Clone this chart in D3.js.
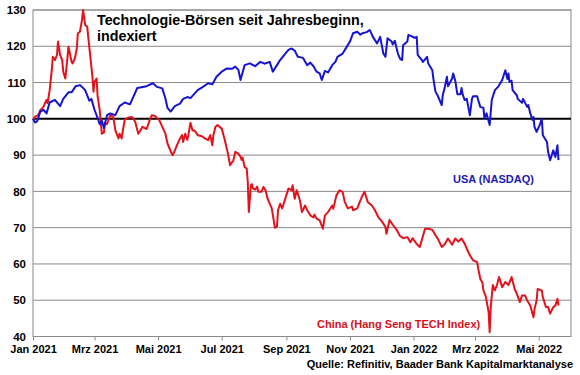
<!DOCTYPE html>
<html>
<head>
<meta charset="utf-8">
<script src="https://cdn.jsdelivr.net/npm/d3@7"></script>
<style>
  body { margin: 0; background: #fff; }
  svg { display: block; font-family: "Liberation Sans", Arial, sans-serif; font-weight: bold; }
</style>
</head>
<body>
<svg></svg>
<script>
// Daten: Tage seit 1. Januar 2021 und Indexwerte (Start = 100)
const usaDays = [
  0, 2, 4, 7, 10, 13, 16, 21, 26, 29,
  34, 37, 41, 45, 47, 50, 54, 56, 59, 62,
  64, 66, 68, 71, 74, 79, 83, 88, 93, 100,
  109, 115, 119, 124, 127, 129, 132, 136, 141, 144,
  148, 151, 158, 163, 168, 172, 176, 181, 186, 191,
  194, 197, 199, 203, 208, 213, 218, 222, 227, 230,
  234, 237, 242, 245, 248, 251, 254, 259, 263, 266,
  269, 272, 275, 277, 280, 283, 287, 290, 292, 297,
  301, 304, 307, 311, 314, 316, 320, 323, 326, 330,
  333, 336, 338, 340, 344, 345, 347, 350, 352, 354,
  355, 359, 360, 363, 366, 368, 369, 373, 374, 378,
  379, 383, 384, 386, 388, 392, 393, 395, 397, 398,
  400, 402, 403, 405, 407, 410, 411, 412, 414, 416,
  419, 421, 422, 426, 427, 429, 432, 433, 435, 438,
  440, 443, 446, 450, 453, 455, 456, 457, 459, 460,
  464, 465, 469, 470, 474, 475, 477, 479, 480, 481,
  483, 486, 488, 489, 493, 494, 496, 498, 499, 501,
  503, 504
];
const usaValues = [
  100, 99, 99.3, 102, 102.5, 101.5, 104.5, 105.2, 103.5, 105.5,
  107.3, 107.3, 109, 109.3, 108.8, 107.9, 105, 105.5, 102.5, 100.2,
  98.5, 99.5, 97.5, 101, 101.5, 101, 103.5, 104.5, 104, 108.5,
  109, 109.8, 108.8, 108.4, 105.6, 103, 102, 103.5, 104.2, 105.5,
  106, 105.7, 107.9, 108.8, 109.8, 109.5, 111.6, 113, 113.9, 113.8,
  114.4, 113.5, 110.7, 114.8, 115.3, 114.5, 115.7, 115.2, 115.7, 113,
  114.8, 116.2, 118, 119, 119.4, 118.8, 117.1, 116.8, 114.8, 115.5,
  114.5, 113, 112.5, 110.7, 113.2, 112.8, 114.8, 115.7, 117.1, 118,
  119.9, 121.3, 123.6, 124, 123.2, 123.6, 123.9, 124.5, 122.6, 120.8,
  122.6, 118, 117.1, 122.2, 121.3, 120.5, 121.5, 118, 116.6, 116.2,
  120.3, 121.3, 123.1, 122.8, 122.3, 122.6, 117.6, 116.2, 115.7, 117.1,
  115.3, 113.4, 111.1, 107.5, 106.5, 103.8, 106.5, 108.8, 111.6, 109,
  110, 111.1, 112.5, 110.5, 106.8, 106.8, 108.5, 106.8, 105.2, 105.5,
  101, 105.5, 106.2, 106.2, 105.2, 103.3, 103, 100.1, 101.5, 98.3,
  105.2, 107.9, 108.8, 110.7, 113.4, 111, 112.5, 110.2, 110.5, 107.9,
  106.5, 105.5, 104.4, 105.5, 103.3, 103.8, 101.5, 99.7, 100.5, 97.8,
  96.4, 98.3, 100, 95.5, 93.6, 90.9, 88.6, 90.4, 91.3, 89.5,
  92.7, 88.6
];

const chinaDays = [
  0, 2, 5, 7, 10, 12, 13, 14, 16, 18,
  19, 21, 23, 24, 26, 28, 29, 31, 33, 34,
  35, 37, 38, 40, 42, 43, 45, 47, 48, 50,
  52, 53, 55, 57, 58, 59, 61, 62, 64, 66,
  68, 69, 71, 74, 77, 79, 82, 83, 85, 86,
  88, 91, 95, 98, 101, 103, 105, 109, 112, 114,
  117, 119, 121, 124, 127, 129, 133, 134, 136, 138,
  141, 143, 144, 146, 148, 149, 151, 153, 155, 158,
  162, 165, 168, 170, 172, 173, 175, 177, 181, 184,
  187, 189, 191, 192, 194, 197, 199, 200, 201, 203,
  205, 206, 207, 209, 210, 211, 213, 215, 216, 219,
  221, 223, 225, 229, 232, 234, 235, 237, 239, 242,
  245, 248, 249, 251, 253, 256, 258, 261, 263, 266,
  269, 270, 272, 275, 278, 280, 283, 287, 288, 291,
  294, 297, 299, 302, 306, 307, 311, 314, 316, 318,
  321, 325, 328, 331, 335, 338, 339, 342, 345, 349,
  352, 355, 359, 362, 364, 368, 371, 376, 379, 383,
  386, 388, 392, 395, 398, 402, 405, 408, 411, 414,
  416, 419, 422, 426, 427, 429, 431, 432, 434, 435,
  437, 438, 439, 441, 443, 445, 447, 450, 453, 456,
  459, 462, 464, 467, 469, 472, 474, 477, 480, 481,
  483, 484, 488, 489, 492, 494, 496, 499, 501, 503,
  504
];
const chinaValues = [
  99.7, 100.6, 101, 102.4, 103.3, 104.7, 105.2, 104.3, 107.9, 113.4,
  117.1, 116.2, 117.6, 121.3, 117.6, 116.2, 113, 111.1, 116.7, 119.9,
  118.6, 115.7, 115.3, 116.5, 119.4, 123.6, 124, 127.2, 130, 125.9,
  125.4, 122.6, 117.1, 111.6, 107.5, 110.2, 111.1, 106.1, 102.4, 95.9,
  96.2, 98.9, 98.5, 101, 100.5, 96.8, 94.6, 95.9, 94.6, 96.5,
  99.7, 100.3, 100.5, 99.2, 95.9, 96.8, 97.8, 97.2, 99.7, 101,
  100.8, 100.2, 99.7, 97.8, 95.9, 93.2, 90.4, 90, 91.2, 92.7,
  94.6, 95.5, 93.6, 95.9, 94.2, 95.5, 98.9, 96.8, 96.8, 95.5,
  95.2, 94.6, 94.1, 95.5, 92.7, 95.5, 97.8, 98.3, 97.3, 94.1,
  90.4, 87.2, 88.1, 88.3, 90.9, 90.4, 89.6, 88.7, 89.3, 86.7,
  86.3, 82.6, 74.3, 81.7, 82, 80.8, 80.5, 81.3, 79.9, 79.9,
  81.2, 80.3, 78, 75.3, 70, 70.3, 74.8, 76.6, 75.3, 78,
  80.8, 80.3, 81.7, 78, 80.3, 77.5, 74.3, 76.1, 74.8, 73.4,
  72.8, 73.6, 72.5, 72, 69.7, 73.4, 74.3, 76.1, 75.2, 78.9,
  80.3, 79.8, 77.1, 75.3, 75.8, 74.8, 75.3, 77.5, 78.9, 79.9,
  77.1, 76.1, 74.8, 73, 71.6, 70.2, 68.3, 72.1, 70.8, 69.3,
  67.7, 67.1, 67.4, 66, 67.1, 65.5, 64.7, 69.7, 69.7, 69.4,
  67.9, 67.1, 64.7, 65.5, 67, 65.3, 67, 66.2, 67, 65.6,
  64.2, 62.4, 61, 60.5, 58.7, 55.9, 54.9, 52.7, 51.3, 49.9,
  46.7, 41.2, 48.1, 54.2, 52.7, 54.2, 56.4, 53.6, 55, 54.2,
  56.4, 53.1, 51.8, 49.5, 51.3, 51.3, 49.9, 48.5, 45.3, 47.6,
  49.9, 53.1, 52.7, 50.8, 48.1, 48.1, 46.3, 48.1, 48.5, 50.4,
  48.5
];

// Achsenbeschriftungen
const yTicks = [40, 50, 60, 70, 80, 90, 100, 110, 120, 130];
const xTickDates = ["2021-01-01", "2021-03-01", "2021-05-01", "2021-07-01", "2021-09-01",
                    "2021-11-01", "2022-01-01", "2022-03-01", "2022-05-01"];
const xTickLabels = ["Jan 2021", "Mrz 2021", "Mai 2021", "Jul 2021", "Sep 2021",
                     "Nov 2021", "Jan 2022", "Mrz 2022", "Mai 2022"];

const width = 580;
const height = 375;
const margin = { top: 10, right: 9, bottom: 38.5, left: 33 };

const svg = d3.select("svg")
  .attr("width", width)
  .attr("height", height);

svg.append("rect")
  .attr("width", width)
  .attr("height", height)
  .attr("fill", "#fff");

const parse = d3.timeParse("%Y-%m-%d");
const start = parse("2021-01-01");

// Skalen
const x = d3.scaleTime()
  .domain([start, parse("2022-06-01")])
  .range([margin.left, width - margin.right]);

const y = d3.scaleLinear()
  .domain([40, 130])
  .range([height - margin.bottom, margin.top]);

const toSeries = (days, values) =>
  days.map((d, i) => ({ date: d3.timeDay.offset(start, d), value: values[i] }));

const usa = toSeries(usaDays, usaValues);
const china = toSeries(chinaDays, chinaValues);

// Gitterlinien
svg.append("g")
  .selectAll("line")
  .data(yTicks.filter(t => t !== 40 && t !== 100))
  .join("line")
  .attr("x1", margin.left)
  .attr("x2", width - margin.right)
  .attr("y1", d => y(d))
  .attr("y2", d => y(d))
  .attr("stroke", "#8a8a8a")
  .attr("stroke-width", 1);

// Rahmen des Plotbereichs
svg.append("rect")
  .attr("x", margin.left)
  .attr("y", y(130))
  .attr("width", width - margin.right - margin.left)
  .attr("height", y(40) - y(130))
  .attr("fill", "none")
  .attr("stroke", "#8a8a8a")
  .attr("stroke-width", 1);

// y-Achse
const yAxis = svg.append("g")
  .attr("transform", `translate(${margin.left},0)`)
  .call(d3.axisLeft(y).tickValues(yTicks).tickSize(0).tickPadding(7));
yAxis.select(".domain").remove();
yAxis.selectAll("text")
  .attr("fill", "#000")
  .style("font-size", "11.5px")
  .style("font-family", "'Liberation Sans', Arial, sans-serif")
  .style("font-weight", "bold");

// x-Achse
const xAxis = svg.append("g")
  .attr("transform", `translate(0,${y(40)})`)
  .call(d3.axisBottom(x)
    .tickValues(xTickDates.map(parse))
    .tickFormat((d, i) => xTickLabels[i])
    .tickSize(4)
    .tickPadding(5));
xAxis.select(".domain").remove();
xAxis.selectAll("line").attr("stroke", "#8a8a8a");
xAxis.selectAll("text")
  .attr("fill", "#000")
  .style("font-size", "11px")
  .style("font-family", "'Liberation Sans', Arial, sans-serif")
  .style("font-weight", "bold");

// Linie bei 100
svg.append("line")
  .attr("x1", margin.left)
  .attr("x2", width - margin.right)
  .attr("y1", y(100))
  .attr("y2", y(100))
  .attr("stroke", "#000")
  .attr("stroke-width", 2);

// Kurven
const line = d3.line()
  .x(d => x(d.date))
  .y(d => y(d.value));

svg.append("path")
  .datum(china)
  .attr("d", line)
  .attr("fill", "none")
  .attr("stroke", "#e3121b")
  .attr("stroke-width", 2)
  .attr("stroke-linejoin", "round");

svg.append("path")
  .datum(usa)
  .attr("d", line)
  .attr("fill", "none")
  .attr("stroke", "#1414d2")
  .attr("stroke-width", 2)
  .attr("stroke-linejoin", "round");

// Titel
const title = svg.append("text")
  .attr("x", 97)
  .attr("y", 25)
  .attr("fill", "#000")
  .style("font-size", "14.3px");
title.append("tspan").text("Technologie-Börsen seit Jahresbeginn,");
title.append("tspan").attr("x", 97).attr("dy", 15.5).text("indexiert");

// Serienbeschriftungen
svg.append("text")
  .attr("x", 453)
  .attr("y", 183)
  .attr("fill", "#1a1ab4")
  .style("font-size", "11px")
  .text("USA (NASDAQ)");

svg.append("text")
  .attr("x", 317)
  .attr("y", 328)
  .attr("fill", "#d8101c")
  .style("font-size", "11px")
  .text("China (Hang Seng TECH Index)");

// Quelle
svg.append("text")
  .attr("x", 573)
  .attr("y", 368)
  .attr("text-anchor", "end")
  .attr("fill", "#000")
  .style("font-size", "11px")
  .text("Quelle: Refinitiv, Baader Bank Kapitalmarktanalyse");
</script>
</body>
</html>
